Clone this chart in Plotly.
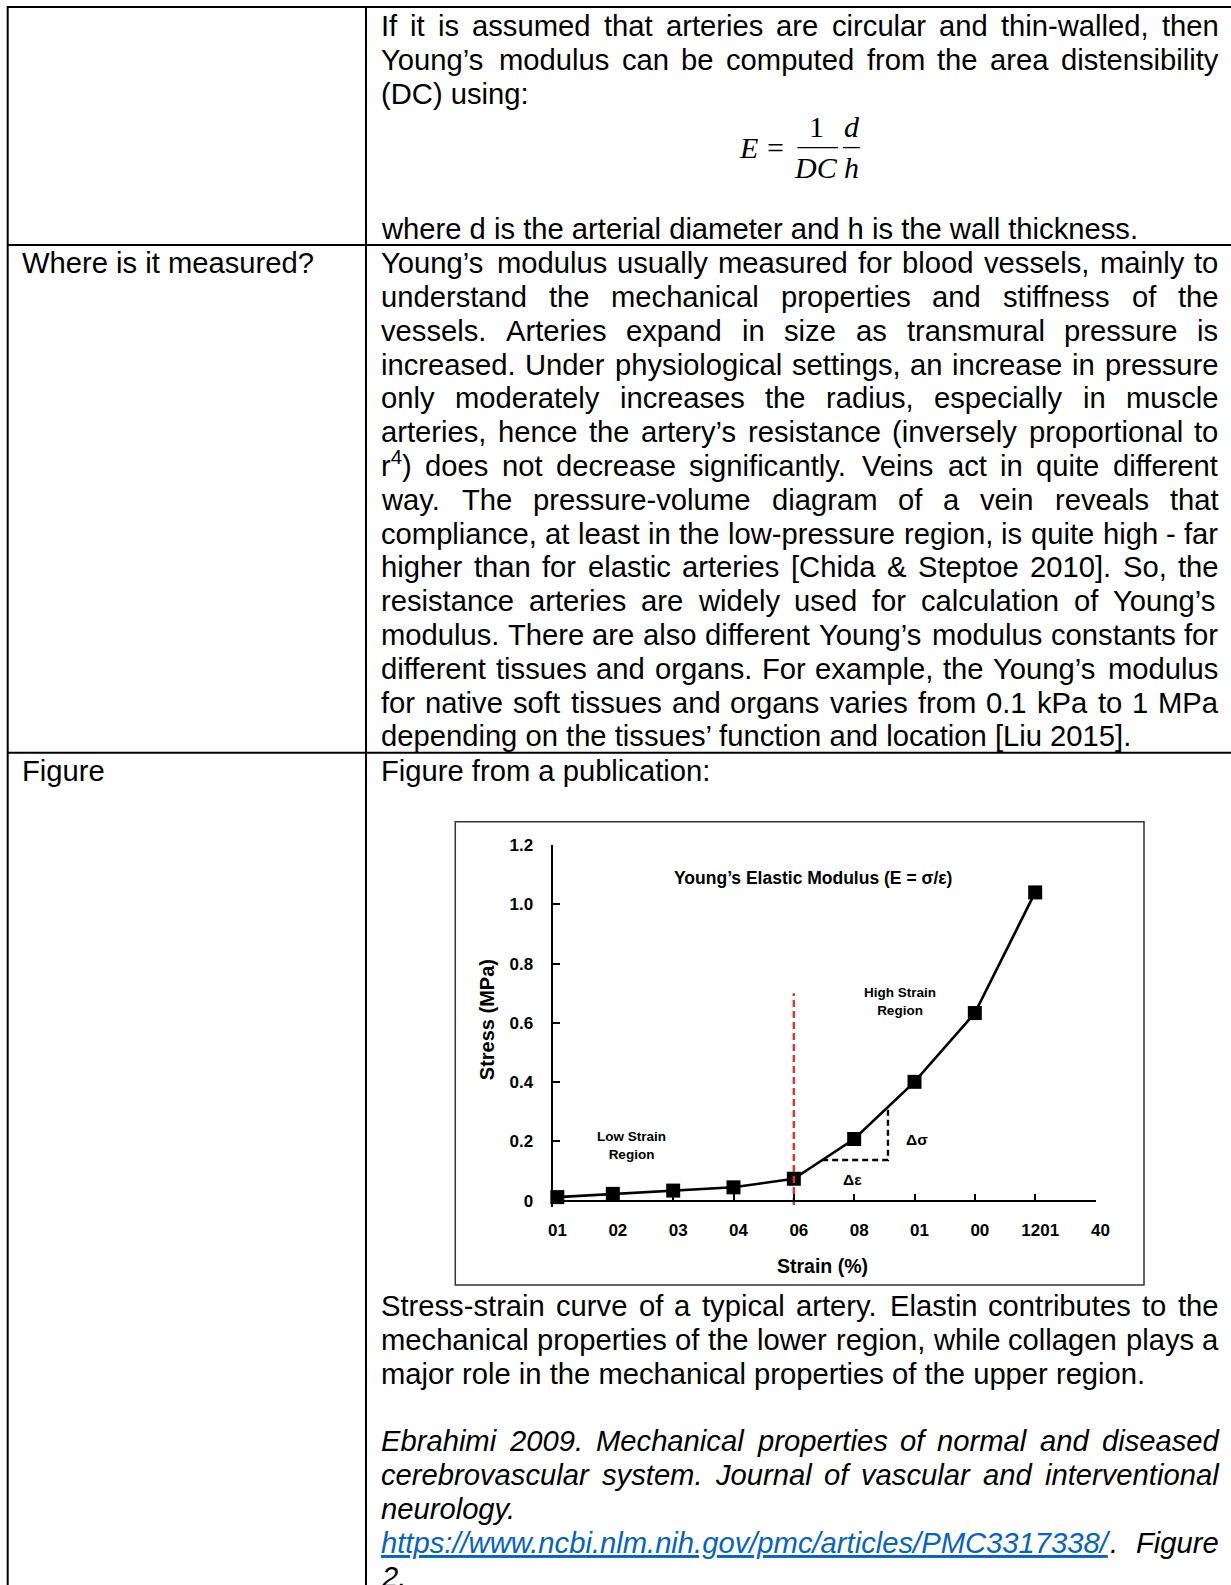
import re
import plotly.graph_objects as go

W, H = 1231, 1585
SANS = "Liberation Sans, Arial, sans-serif"
SERIF = "Liberation Serif, Times New Roman, serif"
FS = 29.2          # body text size (px)
LH = 33.8          # body line pitch (px)

# ---------------- chart data ----------------
strain_pos = [0.08, 1, 2, 3, 4, 5, 6, 7, 8]
stress_mpa = [0.012, 0.023, 0.034, 0.045, 0.074, 0.208, 0.401, 0.633, 1.040]
x_tick_pos = [0, 1, 2, 3, 4, 5, 6, 7, 8, 9]
x_tick_labels = ["01", "02", "03", "04", "06", "08", "01", "00", "1201", "40"]
y_tick_vals = [0, 0.2, 0.4, 0.6, 0.8, 1.0, 1.2]
y_tick_labels = ["0", "0.2", "0.4", "0.6", "0.8", "1.0", "1.2"]
boundary_x = [4, 4]
boundary_y = [-0.015, 0.70]
slope_x = [4.47, 5.56, 5.56]
slope_y = [0.137, 0.137, 0.31]

# ---------------- table text ----------------
row1_lines = [
    ("If it is assumed that arteries are circular and thin-walled, then", True),
    ("Young’s modulus can be computed from the area distensibility", True),
    ("(DC) using:", False),
]
row1_last = "where d is the arterial diameter and h is the wall thickness."
row2_label = "Where is it measured?"
row2_lines = [
    ("Young’s modulus usually measured for blood vessels, mainly to", True),
    ("understand the mechanical properties and stiffness of the", True),
    ("vessels. Arteries expand in size as transmural pressure is", True),
    ("increased. Under physiological settings, an increase in pressure", True),
    ("only moderately increases the radius, especially in muscle", True),
    ("arteries, hence the artery’s resistance (inversely proportional to", True),
    ("r<sup>4</sup>) does not decrease significantly. Veins act in quite different", True),
    ("way. The pressure-volume diagram of a vein reveals that", True),
    ("compliance, at least in the low-pressure region, is quite high - far", True),
    ("higher than for elastic arteries [Chida & Steptoe 2010]. So, the", True),
    ("resistance arteries are widely used for calculation of Young’s", True),
    ("modulus. There are also different Young’s modulus constants for", True),
    ("different tissues and organs. For example, the Young’s modulus", True),
    ("for native soft tissues and organs varies from 0.1 kPa to 1 MPa", True),
    ("depending on the tissues’ function and location [Liu 2015].", False),
]
row3_label = "Figure"
row3_intro = "Figure from a publication:"
caption_lines = [
    ("Stress-strain curve of a typical artery. Elastin contributes to the", True),
    ("mechanical properties of the lower region, while collagen plays a", True),
    ("major role in the mechanical properties of the upper region.", False),
]
cite_lines = [
    ("Ebrahimi 2009. Mechanical properties of normal and diseased", True),
    ("cerebrovascular system. Journal of vascular and interventional", True),
    ("neurology.", False),
]
cite_link = "https://www.ncbi.nlm.nih.gov/pmc/articles/PMC3317338/"
cite_after = "Figure"
cite_last = "2."

# ---------------- Arial/Helvetica advance widths (1/1000 em) ----------------
CW = {' ': 278, '!': 278, '"': 355, '#': 556, '$': 556, '%': 889, '&': 667, "'": 191,
      '(': 333, ')': 333, '*': 389, '+': 584, ',': 278, '-': 333, '.': 278, '/': 278,
      ':': 278, ';': 278, '<': 584, '=': 584, '>': 584, '?': 556, '@': 1015, '[': 278,
      '\\': 278, ']': 278, '^': 469, '_': 556, '`': 333, '’': 222, '‘': 222}
for c in "0123456789":
    CW[c] = 556
CW.update(dict(A=667, B=667, C=722, D=722, E=667, F=611, G=778, H=722, I=278, J=500, K=667,
               L=556, M=833, N=722, O=778, P=667, Q=778, R=722, S=667, T=611, U=722, V=667,
               W=944, X=667, Y=667, Z=611))
CW.update(dict(a=556, b=556, c=500, d=556, e=556, f=278, g=556, h=556, i=222, j=222, k=500,
               l=222, m=833, n=556, o=556, p=556, q=556, r=333, s=500, t=278, u=556, v=500,
               w=722, x=500, y=500, z=500))


def text_w(s, fs=FS):
    total = 0.0
    for p in re.split(r'(<sup>.*?</sup>)', s):
        if p.startswith('<sup>'):
            total += sum(CW.get(c, 556) for c in p[5:-6]) * 0.7
        else:
            total += sum(CW.get(c, 556) for c in p)
    return total * fs / 1000.0


anns = []
shapes = []


def put(text, x_px, base_px, fs=FS, italic=False, color="#000000", family=SANS,
        bold=False, underline=False, xanchor="left"):
    anns.append(dict(
        text=text, x=x_px / W, y=1 - (base_px + 0.212 * fs) / H,
        xref="paper", yref="paper", xanchor=xanchor, yanchor="bottom",
        showarrow=False, borderpad=0, borderwidth=0,
        font=dict(family=family, size=fs, color=color,
                  style="italic" if italic else "normal",
                  weight="bold" if bold else "normal",
                  lineposition="under" if underline else "none")))


def put_c(text, cx, cy, fs, bold=True, family=SANS, italic=False, angle=0, color="#000000"):
    anns.append(dict(
        text=text, x=cx / W, y=1 - cy / H, xref="paper", yref="paper",
        xanchor="center", yanchor="middle", showarrow=False, textangle=angle,
        borderpad=0, borderwidth=0,
        font=dict(family=family, size=fs, color=color,
                  style="italic" if italic else "normal",
                  weight="bold" if bold else "normal")))


X0, X1 = 381.0, 1218.5      # right column text box


def line(text, base, justify, italic=False):
    if not justify:
        put(text, X0, base, italic=italic)
        return
    words = text.split(' ')
    widths = [text_w(w) for w in words]
    gap = (X1 - X0 - sum(widths)) / (len(words) - 1)
    x = X0
    for w, wd in zip(words, widths):
        put(w, x, base, italic=italic)
        x += wd + gap


def seg(x0, y0, x1, y1, w=2, color="black"):
    shapes.append(dict(type="line", xref="paper", yref="paper",
                       x0=x0 / W, x1=x1 / W, y0=1 - y0 / H, y1=1 - y1 / H,
                       line=dict(color=color, width=w)))


# ---------------- table rules ----------------
seg(7, 7, W, 7)
seg(7.7, 6, 7.7, H)
seg(366, 6, 366, H)
seg(7, 245, W, 245)
seg(7, 752.7, W, 752.7)

# ---------------- row 1 ----------------
R1 = 36.2
b = R1
for t, j in row1_lines:
    line(t, b, j)
    b += LH
put(row1_last, X0, R1 + 6 * LH)

# formula  E = (1/DC)(d/h)
put_c("E", 748.0, 147.6, 30, bold=False, family=SERIF, italic=True)
put_c("=", 775.2, 147.6, 30, bold=False, family=SERIF)
put_c("1", 816.6, 126.3, 30, bold=False, family=SERIF)
put_c("DC", 815.6, 167.8, 30, bold=False, family=SERIF, italic=True)
put_c("d", 851.5, 126.3, 30, bold=False, family=SERIF, italic=True)
put_c("h", 851.5, 167.8, 30, bold=False, family=SERIF, italic=True)
seg(797.4, 147.6, 837.9, 147.6, w=1.3)
seg(843.0, 147.6, 860.0, 147.6, w=1.3)

# ---------------- row 2 ----------------
R2 = 273
put(row2_label, 22, R2)
b = R2
for t, j in row2_lines:
    line(t, b, j)
    b += LH

# ---------------- row 3 ----------------
R3 = 781
put(row3_label, 22, R3)
put(row3_intro, X0, R3)
b = 1316
for t, j in caption_lines:
    line(t, b, j)
    b += LH
b += LH
for t, j in cite_lines:
    line(t, b, j, italic=True)
    b += LH
put(cite_link, X0, b, italic=True, color="#0563C1", underline=True)
put(".", X0 + text_w(cite_link), b, italic=True)
put(cite_after, X1 - text_w(cite_after), b, italic=True)
b += LH
put(cite_last, X0, b, italic=True)

# ---------------- embedded chart ----------------
shapes.append(dict(type="rect", xref="paper", yref="paper",
                   x0=455.3 / W, x1=1144 / W, y0=1 - 1285 / H, y1=1 - 821.7 / H,
                   line=dict(color="#333333", width=1.5)))

put_c("Young’s Elastic Modulus (E = σ/ε)", 812.6, 877.8, 17.5)
put_c("Low Strain<br>Region", 631.3, 1145, 13.5)
put_c("High Strain<br>Region", 899.5, 1001.6, 13.5)
put_c("Δσ", 916.7, 1139, 15.5)
put_c("Δε", 852, 1179.5, 15.5)
put_c("Strain (%)", 822.9, 1265.6, 19.5)
put_c("Stress (MPa)", 486.7, 1019.5, 20, angle=-90)

fig = go.Figure()
fig.add_trace(go.Scatter(x=strain_pos, y=stress_mpa, mode="lines+markers",
                         line=dict(color="black", width=2.6),
                         marker=dict(symbol="square", size=14, color="black"),
                         cliponaxis=False, showlegend=False))
fig.add_trace(go.Scatter(x=slope_x, y=slope_y, mode="lines",
                         line=dict(color="black", width=2.4, dash="6px,4px"),
                         showlegend=False))
fig.add_trace(go.Scatter(x=boundary_x, y=boundary_y, mode="lines",
                         line=dict(color="#E8302A", width=2.4, dash="7px,4px"),
                         cliponaxis=False, showlegend=False))

tickfont = dict(family=SANS, size=17, color="black", weight="bold")
fig.update_layout(
    width=W, height=H, margin=dict(l=0, r=0, t=0, b=0, pad=0),
    paper_bgcolor="white", plot_bgcolor="white", template="none",
    showlegend=False, hovermode=False,
    xaxis=dict(domain=[552.5 / W, 1095.5 / W], range=[0, 9], anchor="free",
               position=1 - 1200.7 / H, showline=True, linecolor="black", linewidth=2,
               ticks="inside", ticklen=6, tickwidth=2, tickcolor="black",
               tickvals=x_tick_pos, ticktext=x_tick_labels, tickfont=tickfont,
               ticklabelshift=5, ticklabelstandoff=14,
               showgrid=False, zeroline=False, fixedrange=True),
    yaxis=dict(domain=[1 - 1206.6 / H, 1 - 845 / H], range=[-0.02, 1.2], anchor="x",
               showline=True, linecolor="black", linewidth=2,
               ticks="inside", ticklen=7, tickwidth=2, tickcolor="black",
               tickvals=y_tick_vals, ticktext=y_tick_labels, tickfont=tickfont,
               ticklabelstandoff=14, showgrid=False, zeroline=False, fixedrange=True),
    annotations=anns, shapes=shapes,
)

fig.write_html("out.html", config={"displayModeBar": False},
               post_script="document.documentElement.style.margin='0';"
                           "document.body.style.margin='0';"
                           "document.body.style.padding='0';")
